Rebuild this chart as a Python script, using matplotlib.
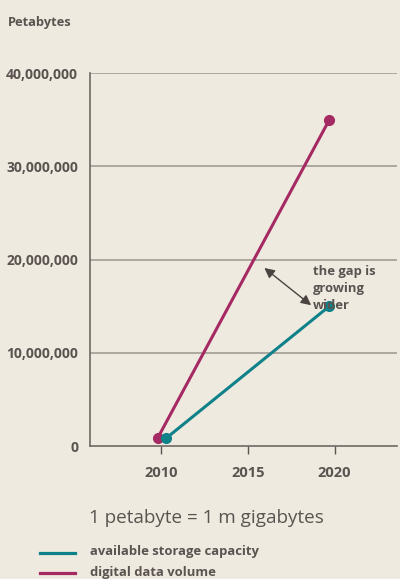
import matplotlib
matplotlib.use("Agg")
import matplotlib.pyplot as plt

plt.rcParams['font.family'] = ['Open Sans', 'DejaVu Sans']

storage_years = [2010.3, 2019.7]
storage_values = [850000, 15000000]
data_years = [2009.8, 2019.7]
data_values = [850000, 35000000]
y_ticks = [0, 10000000, 20000000, 30000000, 40000000]
y_labels = ["0", "10,000,000", "20,000,000", "30,000,000", "40,000,000"]
x_ticks = [2010, 2015, 2020]
x_labels = ["2010", "2015", "2020"]

bg = "#EFEAE0"
teal = "#0F8189"
magenta = "#A52962"
txt = "#5A5350"
grid = "#A09C94"

fig = plt.figure(figsize=(4.0, 5.79), dpi=100, facecolor=bg)
ax = fig.add_axes([0.225, 0.2297, 0.7675, 0.644], facecolor=bg)

ax.set_xlim(2005.9, 2023.6)
ax.set_ylim(0, 40000000)
ax.set_yticks(y_ticks)
ax.set_yticklabels(y_labels, fontsize=10, fontweight='bold', color=txt)
ax.set_xticks(x_ticks)
ax.set_xticklabels(x_labels, fontsize=10.5, fontweight='bold', color=txt)
ax.tick_params(axis='y', length=0, pad=8.5)
ax.tick_params(axis='x', length=6, width=1, color="#5A5350", pad=8.5)
for y in y_ticks[1:]:
    ax.axhline(y, color=grid, lw=1.2, zorder=1)
for s in ['top', 'right']:
    ax.spines[s].set_visible(False)
for s in ['left', 'bottom']:
    ax.spines[s].set_color("#6E6A64")
    ax.spines[s].set_linewidth(1.2)

ax.plot(data_years, data_values, color=magenta, lw=2.2, marker='o', ms=7, zorder=3)
ax.plot(storage_years, storage_values, color=teal, lw=2.2, marker='o', ms=7, zorder=4)

ax.annotate("", xy=(2018.65, 15100000), xytext=(2015.95, 19100000),
            arrowprops=dict(arrowstyle='<|-|>', color="#4A4340", lw=1,
                            mutation_scale=15, shrinkA=0, shrinkB=0), zorder=5)
ax.text(2018.75, 19400000, "the gap is\ngrowing\nwider", fontsize=9.4,
        fontweight='bold', color=txt, va='top', ha='left', linespacing=1.4, zorder=6)

fig.text(0.02, 0.962, "Petabytes", fontsize=9.3, fontweight='bold', color=txt,
         va='center', ha='left')
fig.text(0.222, 0.105, "1 petabyte = 1 m gigabytes", fontsize=13.6, color=txt,
         va='center', ha='left')

fig.add_artist(plt.Line2D([0.1, 0.1875], [0.0445, 0.0445], color=teal, lw=2.3))
fig.add_artist(plt.Line2D([0.1, 0.1875], [0.011, 0.011], color=magenta, lw=2.3))
fig.text(0.225, 0.047, "available storage capacity", fontsize=9.4, fontweight='bold',
         color=txt, va='center', ha='left')
fig.text(0.225, 0.012, "digital data volume", fontsize=9.4, fontweight='bold',
         color=txt, va='center', ha='left')

fig.savefig("out.png", dpi=100, facecolor=bg)
